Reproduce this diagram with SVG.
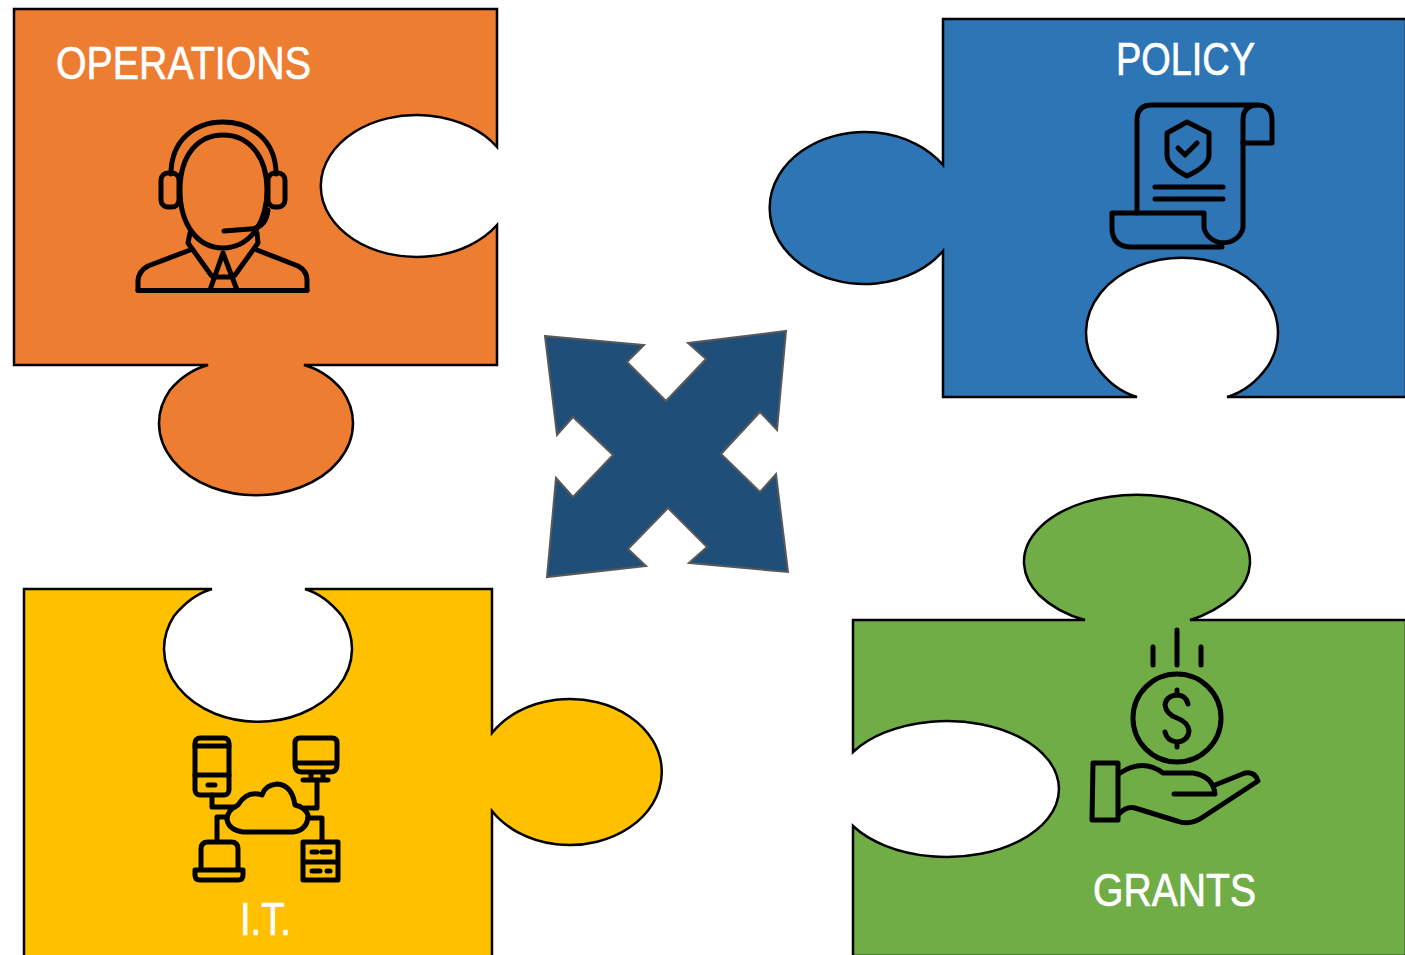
<svg xmlns="http://www.w3.org/2000/svg" width="1405" height="955" viewBox="0 0 1405 955">
<style>
.p{stroke:#000;stroke-width:2.500;stroke-linejoin:miter}
.i{fill:none;stroke:#000;stroke-width:5;stroke-linecap:round;stroke-linejoin:round}
.t{fill:#fff;stroke:#fff;stroke-width:.7;font-family:"Liberation Sans Narrow","Liberation Sans",sans-serif;font-size:47px}
</style>
<rect width="1405" height="955" fill="#fff"/>
<g id="operations">
<path class="p" fill="#ED7D31" d="M14,9H497V147A96,71 0 1 0 497,225V365H304Q326,371 342,390A97,72 0 1 1 170,390Q186,371 208,365H14Z"/>
<text class="t" x="56" y="79" textLength="255" lengthAdjust="spacingAndGlyphs">OPERATIONS</text>
<g class="i">
<path d="M171,174C171,140 195,122 223,122C251,122 276,140 276,174"/>
<path d="M180,190C180,155 198,135 223,135C248,135 267,155 267,190C267,225 248,248 223,248C198,248 180,225 180,190Z"/>
<rect x="161" y="173" width="18" height="34" rx="7"/>
<rect x="268" y="173" width="17" height="34" rx="7"/>
<path d="M268,210Q266,228 250,229L224,231"/>
<path d="M190,233L188,243L211,275M257,233L258,243L235,275"/>
<path d="M190,250L148,266Q139,271 138,280V290M257,250L298,266Q307,271 307,280V290"/>
<path d="M223,253L210,290M223,253L237,290M213,277H233"/>
<path d="M138,290.500H307" stroke-width="5"/>
</g>
</g>
<g id="policy">
<path class="p" fill="#2E75B6" d="M1406,19H943V165A95,76 0 1 0 943,251V397H1137Q1113,390 1096,366A96,75 0 1 1 1268,366Q1251,390 1227,397H1406Z"/>
<text class="t" x="1116" y="75" textLength="139" lengthAdjust="spacingAndGlyphs">POLICY</text>
<g class="i">
<path d="M1137,213V120Q1137,105 1152,105H1258Q1272,105 1272,120V143H1243V120Q1243,105 1258,105"/>
<path d="M1243,143V228A20,19 0 0 1 1204,228V213H1112V228Q1112,247 1132,247H1222"/>
<path d="M1187,122L1209,133V155Q1209,166 1187,176Q1167,166 1167,155V133Z"/>
<path d="M1178,148L1185,155L1197,143M1155,187H1223M1155,199H1223"/>
</g>
</g>
<g id="it">
<path class="p" fill="#FFC000" d="M24,956V589H212Q191,595 174,616A94,73 0 1 0 342,616Q325,595 305,589H492V733A92,73 0 1 1 492,811V956"/>
<text class="t" x="240" y="935" textLength="51" lengthAdjust="spacingAndGlyphs">I.T.</text>
<g class="i">
<rect x="195" y="738" width="34" height="57" rx="5"/>
<path d="M195,746H229M195,775H229M208,785H215"/>
<path d="M295,743Q295,738 300,738H332Q337,738 337,743V765Q337,772 330,772H302Q295,772 295,765ZM295,763H337M311,772V780M323,772V780M303,780H328"/>
<path d="M212,795V807H235M317,780V808H305M225,817H217V840M308,818H322V840"/>
<path d="M243,832H293Q308,830 308,815Q305,807 295,805Q292,785 277,784Q265,785 262,795Q247,790 238,805Q227,810 227,820Q229,830 243,832Z"/>
<path d="M201,870V849Q201,842 208,842H231Q238,842 238,849V870M195,870H243V875Q243,880 238,880H200Q195,880 195,875Z"/>
<path d="M303,880V842H338V880ZM303,862H338M312,852H317M322,852H330M312,871H320M327,871H330"/>
</g>
</g>
<g id="grants">
<path class="p" fill="#70AD47" d="M1406,620H1190Q1214,613 1235,595A113,67 0 1 0 1039,595Q1058,613 1085,620H853V752A112,68 0 1 1 853,826V956H1406Z"/>
<text class="t" x="1093" y="906" textLength="163" lengthAdjust="spacingAndGlyphs">GRANTS</text>
<g class="i">
<path d="M1153,647V665M1177,630V665M1201,647V665"/>
<circle cx="1177" cy="718" r="44"/>
<path d="M1188,704Q1186,695 1177,695Q1166,696 1165,705Q1166,714 1177,718Q1188,722 1189,731Q1188,741 1177,742Q1167,741 1165,732M1177,690V695M1177,742V747"/>
<path d="M1093,763H1118V820H1092Z"/>
<path d="M1120,773Q1143,758 1163,773H1193Q1213,776 1215,794H1174M1215,785L1245,773Q1255,771 1258,781L1203,817Q1190,826 1177,821L1135,808Q1127,806 1120,813"/>
</g>
</g>
<g id="arrows">
<path fill="#1F4E79" stroke="#595959" stroke-width="2" d="M545,336L644,345L627,362L666,401L706,359L688,343L786,331L777,430L760,412L721,454L760,492L776,474L788,572L689,563L707,547L668,508L628,549L646,566L547,577L556,478L573,497L613,455L573,417L557,435Z"/>
</g>
</svg>
